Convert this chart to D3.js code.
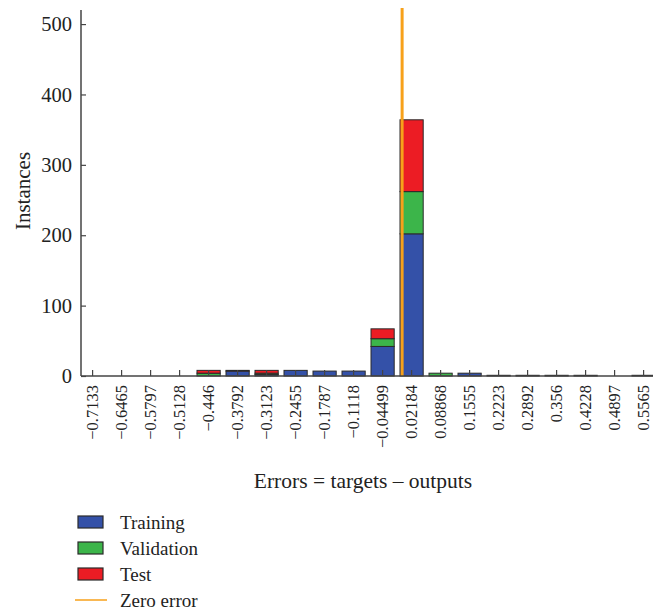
<!DOCTYPE html>
<html>
<head>
<meta charset="utf-8">
<script src="https://cdn.jsdelivr.net/npm/d3@7"></script>
<style>
  body { margin: 0; background: #fff; }
  svg { display: block; overflow: hidden; }
  text { font-family: "Liberation Serif", "DejaVu Serif", serif; fill: #222; }
</style>
</head>
<body>
<div id="chart"></div>
<script>
// bin centres (tick labels) and instance counts per bin
const bins = ["\u22120.7133", "\u22120.6465", "\u22120.5797", "\u22120.5128", "\u22120.446", "\u22120.3792",
    "\u22120.3123", "\u22120.2455", "\u22120.1787", "\u22120.1118", "\u22120.04499", "0.02184", "0.08868",
    "0.1555", "0.2223", "0.2892", "0.356", "0.4228", "0.4897", "0.5565"]
const training   = [0, 0, 0, 0, 0, 7, 2, 8, 7, 7, 42, 202, 0, 4, 1, 1, 1, 1, 0, 1]
const validation = [0, 0, 0, 0, 4, 0, 2, 0, 0, 0, 11, 60, 4, 0, 0, 0, 0, 0, 0, 0]
const test       = [0, 0, 0, 0, 4, 1, 4, 0, 0, 0, 14, 102, 0, 0, 0, 0, 0, 0, 0, 0]
const zeroError = 0
const yTicks = [0, 100, 200, 300, 400, 500]

const seriesNames = ["Training", "Validation", "Test"]
const colors = {Training: "#3451a8", Validation: "#3cb54a", Test: "#ec1c24"}

const W = 653, H = 610
const mLeft = 81, mBottom = 376, mTop = 10
const svg = d3.select("#chart").append("svg")
    .attr("width", W)
    .attr("height", H)

// step of ~29px per bin, 20% gap between bars
const x = d3.scaleBand()
    .domain(bins)
    .range([mLeft, mLeft + 29.0 * 19.8])
    .paddingInner(0.2)
    .paddingOuter(0)
const y = d3.scaleLinear()
    .domain([0, 520])
    .range([mBottom, mTop])

// stacked bars
const rows = bins.map((b, i) => ({bin: b, Training: training[i], Validation: validation[i], Test: test[i]}))
const stacked = d3.stack().keys(seriesNames)(rows)

svg.append("g").selectAll("g")
    .data(stacked)
    .join("g")
    .attr("fill", d => colors[d.key])
    .selectAll("rect")
    .data(d => d.filter(p => p[1] > p[0]))
    .join("rect")
    .attr("x", d => x(d.data.bin))
    .attr("y", d => y(d[1]))
    .attr("width", x.bandwidth())
    .attr("height", d => y(d[0]) - y(d[1]))
    .attr("stroke", "#2a2a2a")
    .attr("stroke-width", 1)

// zero error line: linear position between bin centres
const centers = bins.map(b => +b.replace("\u2212", "-"))
const xc = d3.scaleLinear()
    .domain([centers[0], centers[centers.length - 1]])
    .range([x(bins[0]) + x.bandwidth() / 2, x(bins[bins.length - 1]) + x.bandwidth() / 2])
svg.append("line")
    .attr("x1", xc(zeroError)).attr("x2", xc(zeroError))
    .attr("y1", 8).attr("y2", mBottom)
    .attr("stroke", "#f7a11a")
    .attr("stroke-width", 3)

// axes
const xAxis = svg.append("g")
    .attr("transform", `translate(0,${mBottom})`)
    .call(d3.axisTop(x).tickSize(6).tickFormat(""))
xAxis.select(".domain").remove()
xAxis.selectAll(".tick line").attr("stroke", "#444").attr("stroke-width", 1.2)
svg.append("line")
    .attr("x1", mLeft).attr("x2", W)
    .attr("y1", mBottom).attr("y2", mBottom)
    .attr("stroke", "#444").attr("stroke-width", 1.5)

svg.append("g").selectAll("text")
    .data(bins)
    .join("text")
    .attr("transform", d => `translate(${x(d) + x.bandwidth() / 2},${mBottom + 9}) rotate(-90)`)
    .attr("dy", "0.32em")
    .attr("text-anchor", "end")
    .style("font-size", "16.5px")
    .text(d => d)

const yAxis = svg.append("g")
    .attr("transform", `translate(${mLeft},0)`)
    .call(d3.axisRight(y).tickValues(yTicks).tickSize(5).tickFormat(""))
yAxis.select(".domain").remove()
yAxis.selectAll(".tick line").attr("stroke", "#444").attr("stroke-width", 1.2)
svg.append("line")
    .attr("x1", mLeft).attr("x2", mLeft)
    .attr("y1", mTop).attr("y2", mBottom)
    .attr("stroke", "#444").attr("stroke-width", 1.5)

svg.append("g").selectAll("text")
    .data(yTicks)
    .join("text")
    .attr("x", mLeft - 9)
    .attr("y", d => y(d))
    .attr("dy", "0.35em")
    .attr("text-anchor", "end")
    .style("font-size", "20.5px")
    .text(d => d)

// axis titles
svg.append("text")
    .attr("transform", `translate(30,191) rotate(-90)`)
    .attr("text-anchor", "middle")
    .style("font-size", "21px")
    .text("Instances")
svg.append("text")
    .attr("x", 363)
    .attr("y", 488)
    .attr("text-anchor", "middle")
    .style("font-size", "21.5px")
    .text("Errors = targets \u2013 outputs")

// legend
const legend = svg.append("g").attr("transform", "translate(78,522)")
seriesNames.forEach((name, i) => {
    const g = legend.append("g").attr("transform", `translate(0,${i * 26})`)
    g.append("rect")
        .attr("x", 0).attr("y", -6)
        .attr("width", 25).attr("height", 12)
        .attr("fill", colors[name])
        .attr("stroke", "#2a2a2a")
        .attr("stroke-width", 1.2)
    g.append("text")
        .attr("x", 42).attr("dy", "0.35em")
        .style("font-size", "19px")
        .text(name)
})
const zg = legend.append("g").attr("transform", `translate(0,${3 * 26})`)
zg.append("line")
    .attr("x1", -3).attr("x2", 29)
    .attr("stroke", "#f7a11a").attr("stroke-width", 1.5)
zg.append("text")
    .attr("x", 42).attr("dy", "0.35em")
    .style("font-size", "19px")
    .text("Zero error")
</script>
</body>
</html>
